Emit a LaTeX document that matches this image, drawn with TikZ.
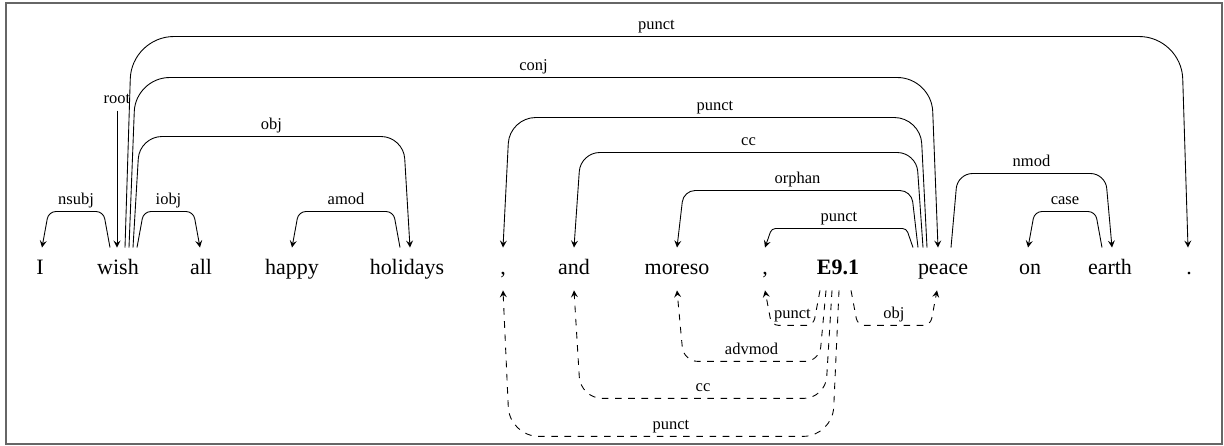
\documentclass[tikz,border=0pt]{standalone}
\usepackage{fontspec}
\setmainfont{Liberation Serif}
\usetikzlibrary{calc}
\usetikzlibrary{arrows}

\tikzset{
word/.style={anchor=base, font=\fontsize{10}{12}\selectfont, text height=7pt, text depth=1.5pt, inner xsep=0pt, inner ysep=5.3pt},
lab/.style={anchor=base, font=\fontsize{7.5}{9}\selectfont, inner sep=0pt},
arclab/.style={lab, midway, yshift=3.2pt},
dep/.style={-stealth, rounded corners=0.2*#1*0.455pt, to path={-- ($(\tikztostart)!3pt!(\tikztotarget)+(0,-#1)$) -- ($(\tikztotarget)!3pt!(\tikztostart)+(0,-#1)$) \tikztonodes -- (\tikztotarget)}},
depb/.style={-stealth, dashed, rounded corners=0.2*#1*0.455pt, to path={-- ($(\tikztostart)!3pt!(\tikztotarget)+(0,#1)$) -- ($(\tikztotarget)!3pt!(\tikztostart)+(0,#1)$) \tikztonodes -- (\tikztotarget)}}
}

\begin{document}
\begin{tikzpicture}[x=0.455pt, y=-0.455pt]
\useasboundingbox (0,0) rectangle (1224,446);
\draw[black!60, line width=0.6pt] (6,3) rectangle (1222,444);

\node[word](I) at (40,275){I};
\node[word](wish) at (118,275){wish};
\node[word](all) at (201,275){all};
\node[word](happy) at (292,275){happy};
\node[word](holidays) at (407,275){holidays};
\node[word](cA) at (503,275){,};
\node[word](and) at (574,275){and};
\node[word](moreso) at (677,275){moreso};
\node[word](cB) at (765,275){,};
\node[word](E) at (838,275){\textbf{E9.1}};
\node[word](peace) at (943,275){peace};
\node[word](on) at (1030,275){on};
\node[word](earth) at (1110,275){earth};
\node[word](dot) at (1189,275){.};
\node[lab](root) at (117,104){root};

\path
($(root.south)+(0,6)$) edge[-stealth] ($(wish.north)+(-1,0)$)
($(wish.north)+(-8,0)$) edge[dep=36] node[arclab]{nsubj} ($(I.north)+(2,0)$)
($(wish.north)+(19,0)$) edge[dep=36] node[arclab]{iobj} ($(all.north)+(-1,0)$)
($(wish.north)+(15,0)$) edge[dep=111] node[arclab]{obj} ($(holidays.north)+(3,0)$)
($(wish.north)+(11,0)$) edge[dep=170] node[arclab]{conj} ($(peace.north)+(-5,0)$)
($(wish.north)+(7,0)$) edge[dep=211] node[arclab]{punct} ($(dot.north)+(-1,0)$)
($(holidays.north)+(-7,0)$) edge[dep=36] node[arclab]{amod} (happy.north)
($(peace.north)+(-16,0)$) edge[dep=130] node[arclab]{punct} (cA.north)
($(peace.north)+(-20,0)$) edge[dep=95] node[arclab]{cc} (and.north)
($(peace.north)+(-25,0)$) edge[dep=57] node[arclab]{orphan} (moreso.north)
($(peace.north)+(-30,0)$) edge[dep=19] node[arclab]{punct} (cB.north)
($(peace.north)+(8,0)$) edge[dep=74] node[arclab]{nmod} ($(earth.north)+(2,0)$)
($(earth.north)+(-8,0)$) edge[dep=36] node[arclab]{case} ($(on.north)+(-2,0)$);

% enhanced arcs below the words
\path
($(E.south)+(-18,0)$) edge[depb=35] node[arclab]{punct} (cB.south)
($(E.south)+(13,0)$) edge[depb=35] node[arclab]{obj} ($(peace.south)+(-6,0)$)
($(E.south)+(-12,0)$) edge[depb=71] node[arclab]{advmod} (moreso.south)
($(E.south)+(-6,0)$) edge[depb=108] node[arclab]{cc} (and.south)
($(E.south)+(1,0)$) edge[depb=146] node[arclab]{punct} (cA.south);
\end{tikzpicture}
\end{document}
